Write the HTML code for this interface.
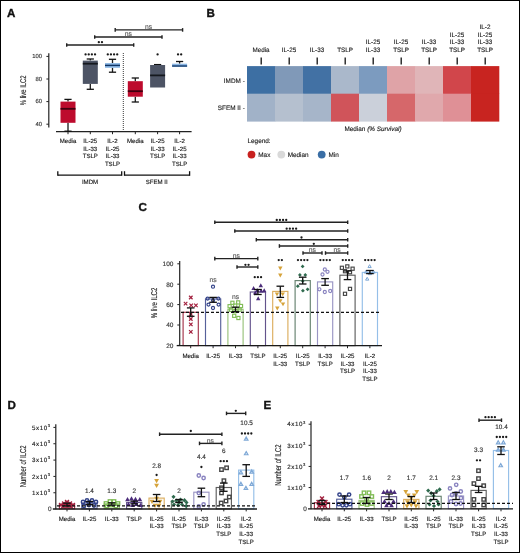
<!DOCTYPE html>
<html><head><meta charset="utf-8"><style>
html,body{margin:0;padding:0;background:#fff;}
body{width:520px;height:553px;overflow:hidden;}
svg{display:block;font-family:"Liberation Sans", sans-serif;will-change:transform;text-rendering:geometricPrecision;}
text{stroke:currentColor;stroke-width:0.14px;}
</style></head><body>
<svg width="520" height="553" viewBox="0 0 520 553">
<rect x="0" y="0" width="520" height="553" fill="#fff"/>
<text x="6.9" y="17.1" font-size="11.6" text-anchor="start" fill="#111" color="#111" font-weight="bold" style="stroke-width:0.35px">A</text>
<line x1="66.7" y1="45" x2="133.7" y2="45" stroke="#222" stroke-width="1.4" stroke-linecap="butt"/>
<line x1="66.7" y1="43.2" x2="66.7" y2="46.8" stroke="#222" stroke-width="1.4" stroke-linecap="butt"/>
<line x1="133.7" y1="43.2" x2="133.7" y2="46.8" stroke="#222" stroke-width="1.4" stroke-linecap="butt"/>
<line x1="94.7" y1="37" x2="162" y2="37" stroke="#222" stroke-width="1.4" stroke-linecap="butt"/>
<line x1="94.7" y1="35.2" x2="94.7" y2="38.8" stroke="#222" stroke-width="1.4" stroke-linecap="butt"/>
<line x1="162" y1="35.2" x2="162" y2="38.8" stroke="#222" stroke-width="1.4" stroke-linecap="butt"/>
<line x1="115.2" y1="29.9" x2="182.6" y2="29.9" stroke="#222" stroke-width="1.4" stroke-linecap="butt"/>
<line x1="115.2" y1="28.1" x2="115.2" y2="31.7" stroke="#222" stroke-width="1.4" stroke-linecap="butt"/>
<line x1="182.6" y1="28.1" x2="182.6" y2="31.7" stroke="#222" stroke-width="1.4" stroke-linecap="butt"/>
<circle cx="98.83" cy="42.2" r="1.15" fill="#1a1a1a"/>
<circle cx="101.98" cy="42.2" r="1.15" fill="#1a1a1a"/>
<text x="128.4" y="35.75" font-size="6.8" text-anchor="middle" fill="#5a5a5a" color="#5a5a5a">ns</text>
<text x="148.5" y="29.35" font-size="6.8" text-anchor="middle" fill="#5a5a5a" color="#5a5a5a">ns</text>
<line x1="48.8" y1="53.3" x2="48.8" y2="127.6" stroke="#222" stroke-width="1.2" stroke-linecap="butt"/>
<line x1="46.4" y1="56.4" x2="48.8" y2="56.4" stroke="#222" stroke-width="1" stroke-linecap="butt"/>
<text x="42.1" y="58.2" font-size="5.9" text-anchor="end" fill="#333" color="#333">100</text>
<line x1="46.4" y1="79" x2="48.8" y2="79" stroke="#222" stroke-width="1" stroke-linecap="butt"/>
<text x="42.1" y="80.8" font-size="5.9" text-anchor="end" fill="#333" color="#333">80</text>
<line x1="46.4" y1="101.6" x2="48.8" y2="101.6" stroke="#222" stroke-width="1" stroke-linecap="butt"/>
<text x="42.1" y="103.4" font-size="5.9" text-anchor="end" fill="#333" color="#333">60</text>
<line x1="46.4" y1="124.2" x2="48.8" y2="124.2" stroke="#222" stroke-width="1" stroke-linecap="butt"/>
<text x="42.1" y="126" font-size="5.9" text-anchor="end" fill="#333" color="#333">40</text>
<text transform="translate(25.8 90.3) rotate(-90) scale(0.71 1)" x="0" y="0" font-size="8.3" text-anchor="middle" fill="#222" color="#222">% live ILC2</text>
<line x1="56" y1="131.6" x2="191.6" y2="131.6" stroke="#222" stroke-width="1.1" stroke-linecap="butt"/>
<line x1="68" y1="131.6" x2="68" y2="134.2" stroke="#222" stroke-width="1" stroke-linecap="butt"/>
<line x1="90.3" y1="131.6" x2="90.3" y2="134.2" stroke="#222" stroke-width="1" stroke-linecap="butt"/>
<line x1="112.5" y1="131.6" x2="112.5" y2="134.2" stroke="#222" stroke-width="1" stroke-linecap="butt"/>
<line x1="135.3" y1="131.6" x2="135.3" y2="134.2" stroke="#222" stroke-width="1" stroke-linecap="butt"/>
<line x1="157.6" y1="131.6" x2="157.6" y2="134.2" stroke="#222" stroke-width="1" stroke-linecap="butt"/>
<line x1="179.6" y1="131.6" x2="179.6" y2="134.2" stroke="#222" stroke-width="1" stroke-linecap="butt"/>
<line x1="123.3" y1="53" x2="123.3" y2="131" stroke="#222" stroke-width="0.9" stroke-dasharray="1,1" stroke-linecap="butt"/>
<line x1="68" y1="99.4" x2="68" y2="101.6" stroke="#1a1a1a" stroke-width="1.3" stroke-linecap="butt"/>
<line x1="64.4" y1="99.4" x2="71.6" y2="99.4" stroke="#111" stroke-width="1.3" stroke-linecap="butt"/>
<line x1="68" y1="122.8" x2="68" y2="131.2" stroke="#1a1a1a" stroke-width="1.3" stroke-linecap="butt"/>
<line x1="64.4" y1="131.2" x2="71.6" y2="131.2" stroke="#111" stroke-width="1.3" stroke-linecap="butt"/>
<rect x="60.5" y="101.6" width="15" height="21.2" fill="#bd0b2d"/>
<line x1="60.5" y1="108.8" x2="75.5" y2="108.8" stroke="#40000f" stroke-width="1.8" stroke-linecap="butt"/>
<line x1="90.3" y1="59" x2="90.3" y2="60.6" stroke="#1a1a1a" stroke-width="1.3" stroke-linecap="butt"/>
<line x1="86.7" y1="59" x2="93.9" y2="59" stroke="#111" stroke-width="1.3" stroke-linecap="butt"/>
<line x1="90.3" y1="83.9" x2="90.3" y2="89.3" stroke="#1a1a1a" stroke-width="1.3" stroke-linecap="butt"/>
<line x1="86.7" y1="89.3" x2="93.9" y2="89.3" stroke="#111" stroke-width="1.3" stroke-linecap="butt"/>
<rect x="82.8" y="60.6" width="15" height="23.3" fill="#4d5465"/>
<line x1="82.8" y1="63.7" x2="97.8" y2="63.7" stroke="#15181e" stroke-width="1.8" stroke-linecap="butt"/>
<line x1="112.5" y1="59.3" x2="112.5" y2="63.1" stroke="#1a1a1a" stroke-width="1.3" stroke-linecap="butt"/>
<line x1="108.9" y1="59.3" x2="116.1" y2="59.3" stroke="#111" stroke-width="1.3" stroke-linecap="butt"/>
<line x1="112.5" y1="67.8" x2="112.5" y2="72.2" stroke="#1a1a1a" stroke-width="1.3" stroke-linecap="butt"/>
<line x1="108.9" y1="72.2" x2="116.1" y2="72.2" stroke="#111" stroke-width="1.3" stroke-linecap="butt"/>
<rect x="105" y="63.1" width="15" height="4.7" fill="#8ab6e4"/>
<line x1="105" y1="65.4" x2="120" y2="65.4" stroke="#0f3363" stroke-width="1.4" stroke-linecap="butt"/>
<line x1="135.3" y1="78" x2="135.3" y2="81.2" stroke="#1a1a1a" stroke-width="1.3" stroke-linecap="butt"/>
<line x1="131.7" y1="78" x2="138.9" y2="78" stroke="#111" stroke-width="1.3" stroke-linecap="butt"/>
<line x1="135.3" y1="96.7" x2="135.3" y2="102" stroke="#1a1a1a" stroke-width="1.3" stroke-linecap="butt"/>
<line x1="131.7" y1="102" x2="138.9" y2="102" stroke="#111" stroke-width="1.3" stroke-linecap="butt"/>
<rect x="127.8" y="81.2" width="15" height="15.5" fill="#bd0b2d"/>
<line x1="127.8" y1="91.2" x2="142.8" y2="91.2" stroke="#40000f" stroke-width="1.8" stroke-linecap="butt"/>
<line x1="157.6" y1="64.6" x2="157.6" y2="65" stroke="#1a1a1a" stroke-width="1.3" stroke-linecap="butt"/>
<line x1="154" y1="64.6" x2="161.2" y2="64.6" stroke="#111" stroke-width="1.3" stroke-linecap="butt"/>
<rect x="150.1" y="65" width="15" height="22.5" fill="#4d5465"/>
<line x1="150.1" y1="75.4" x2="165.1" y2="75.4" stroke="#15181e" stroke-width="1.8" stroke-linecap="butt"/>
<line x1="179.6" y1="61.5" x2="179.6" y2="63.7" stroke="#1a1a1a" stroke-width="1.3" stroke-linecap="butt"/>
<line x1="176" y1="61.5" x2="183.2" y2="61.5" stroke="#111" stroke-width="1.3" stroke-linecap="butt"/>
<rect x="172.1" y="63.7" width="15" height="3.2" fill="#8ab6e4"/>
<line x1="172.1" y1="66" x2="187.1" y2="66" stroke="#0f3363" stroke-width="1.3" stroke-linecap="butt"/>
<circle cx="85.58" cy="54.4" r="1.15" fill="#1a1a1a"/>
<circle cx="88.73" cy="54.4" r="1.15" fill="#1a1a1a"/>
<circle cx="91.88" cy="54.4" r="1.15" fill="#1a1a1a"/>
<circle cx="95.03" cy="54.4" r="1.15" fill="#1a1a1a"/>
<circle cx="107.78" cy="54.4" r="1.15" fill="#1a1a1a"/>
<circle cx="110.93" cy="54.4" r="1.15" fill="#1a1a1a"/>
<circle cx="114.08" cy="54.4" r="1.15" fill="#1a1a1a"/>
<circle cx="117.23" cy="54.4" r="1.15" fill="#1a1a1a"/>
<circle cx="157.6" cy="54.4" r="1.15" fill="#1a1a1a"/>
<circle cx="178.03" cy="54.4" r="1.15" fill="#1a1a1a"/>
<circle cx="181.18" cy="54.4" r="1.15" fill="#1a1a1a"/>
<text x="68" y="143" font-size="6.1" text-anchor="middle" fill="#222" color="#222">Media</text>
<text x="90.3" y="143" font-size="6.1" text-anchor="middle" fill="#222" color="#222">IL-25</text>
<text x="90.3" y="150.7" font-size="6.1" text-anchor="middle" fill="#222" color="#222">IL-33</text>
<text x="90.3" y="158.4" font-size="6.1" text-anchor="middle" fill="#222" color="#222">TSLP</text>
<text x="112.5" y="143" font-size="6.1" text-anchor="middle" fill="#222" color="#222">IL-2</text>
<text x="112.5" y="150.7" font-size="6.1" text-anchor="middle" fill="#222" color="#222">IL-25</text>
<text x="112.5" y="158.4" font-size="6.1" text-anchor="middle" fill="#222" color="#222">IL-33</text>
<text x="112.5" y="166.1" font-size="6.1" text-anchor="middle" fill="#222" color="#222">TSLP</text>
<text x="135.3" y="143" font-size="6.1" text-anchor="middle" fill="#222" color="#222">Media</text>
<text x="157.6" y="143" font-size="6.1" text-anchor="middle" fill="#222" color="#222">IL-25</text>
<text x="157.6" y="150.7" font-size="6.1" text-anchor="middle" fill="#222" color="#222">IL-33</text>
<text x="157.6" y="158.4" font-size="6.1" text-anchor="middle" fill="#222" color="#222">TSLP</text>
<text x="179.6" y="143" font-size="6.1" text-anchor="middle" fill="#222" color="#222">IL-2</text>
<text x="179.6" y="150.7" font-size="6.1" text-anchor="middle" fill="#222" color="#222">IL-25</text>
<text x="179.6" y="158.4" font-size="6.1" text-anchor="middle" fill="#222" color="#222">IL-33</text>
<text x="179.6" y="166.1" font-size="6.1" text-anchor="middle" fill="#222" color="#222">TSLP</text>
<line x1="57.8" y1="175.2" x2="121.7" y2="175.2" stroke="#111" stroke-width="1.3" stroke-linecap="butt"/>
<line x1="57.8" y1="171.2" x2="57.8" y2="175.8" stroke="#111" stroke-width="1.3" stroke-linecap="butt"/>
<line x1="121.7" y1="171.2" x2="121.7" y2="175.8" stroke="#111" stroke-width="1.3" stroke-linecap="butt"/>
<line x1="124.5" y1="175.2" x2="189.6" y2="175.2" stroke="#111" stroke-width="1.3" stroke-linecap="butt"/>
<line x1="124.5" y1="171.2" x2="124.5" y2="175.8" stroke="#111" stroke-width="1.3" stroke-linecap="butt"/>
<line x1="189.6" y1="171.2" x2="189.6" y2="175.8" stroke="#111" stroke-width="1.3" stroke-linecap="butt"/>
<text x="90" y="184" font-size="6.1" text-anchor="middle" fill="#222" color="#222">IMDM</text>
<text x="156.7" y="184" font-size="6.1" text-anchor="middle" fill="#222" color="#222">SFEM II</text>
<text x="206.6" y="16.5" font-size="11.6" text-anchor="start" fill="#111" color="#111" font-weight="bold" style="stroke-width:0.35px">B</text>
<rect x="247" y="66.1" width="28.3" height="27.9" fill="#3d6fa3"/>
<rect x="275" y="66.1" width="28.3" height="27.9" fill="#8099b8"/>
<rect x="303" y="66.1" width="28.3" height="27.9" fill="#4271a4"/>
<rect x="331" y="66.1" width="28.3" height="27.9" fill="#aab8cb"/>
<rect x="359" y="66.1" width="28.3" height="27.9" fill="#7c9bbf"/>
<rect x="387" y="66.1" width="28.3" height="27.9" fill="#dfa3a7"/>
<rect x="415" y="66.1" width="28.3" height="27.9" fill="#e0b5b8"/>
<rect x="443" y="66.1" width="28.3" height="27.9" fill="#d1464b"/>
<rect x="471" y="66.1" width="28.3" height="27.9" fill="#c82420"/>
<rect x="247" y="93.7" width="28.3" height="27.9" fill="#a1b2c8"/>
<rect x="275" y="93.7" width="28.3" height="27.9" fill="#b5c0cf"/>
<rect x="303" y="93.7" width="28.3" height="27.9" fill="#a6b5c9"/>
<rect x="331" y="93.7" width="28.3" height="27.9" fill="#d0545a"/>
<rect x="359" y="93.7" width="28.3" height="27.9" fill="#cbd0da"/>
<rect x="387" y="93.7" width="28.3" height="27.9" fill="#d6676a"/>
<rect x="415" y="93.7" width="28.3" height="27.9" fill="#e0a8ac"/>
<rect x="443" y="93.7" width="28.3" height="27.9" fill="#df9096"/>
<rect x="471" y="93.7" width="28.3" height="27.9" fill="#c82420"/>
<line x1="261.2" y1="57.4" x2="261.2" y2="64.4" stroke="#111" stroke-width="1.3" stroke-linecap="butt"/>
<text x="261" y="52" font-size="6.3" text-anchor="middle" fill="#222" color="#222">Media</text>
<line x1="289.2" y1="57.4" x2="289.2" y2="64.4" stroke="#111" stroke-width="1.3" stroke-linecap="butt"/>
<text x="289" y="52" font-size="6.3" text-anchor="middle" fill="#222" color="#222">IL-25</text>
<line x1="317.2" y1="57.4" x2="317.2" y2="64.4" stroke="#111" stroke-width="1.3" stroke-linecap="butt"/>
<text x="317" y="52" font-size="6.3" text-anchor="middle" fill="#222" color="#222">IL-33</text>
<line x1="345.2" y1="57.4" x2="345.2" y2="64.4" stroke="#111" stroke-width="1.3" stroke-linecap="butt"/>
<text x="345" y="52" font-size="6.3" text-anchor="middle" fill="#222" color="#222">TSLP</text>
<line x1="373.2" y1="57.4" x2="373.2" y2="64.4" stroke="#111" stroke-width="1.3" stroke-linecap="butt"/>
<text x="373" y="44.35" font-size="6.3" text-anchor="middle" fill="#222" color="#222">IL-25</text>
<text x="373" y="52" font-size="6.3" text-anchor="middle" fill="#222" color="#222">IL-33</text>
<line x1="401.2" y1="57.4" x2="401.2" y2="64.4" stroke="#111" stroke-width="1.3" stroke-linecap="butt"/>
<text x="401" y="44.35" font-size="6.3" text-anchor="middle" fill="#222" color="#222">IL-25</text>
<text x="401" y="52" font-size="6.3" text-anchor="middle" fill="#222" color="#222">TSLP</text>
<line x1="429.2" y1="57.4" x2="429.2" y2="64.4" stroke="#111" stroke-width="1.3" stroke-linecap="butt"/>
<text x="429" y="44.35" font-size="6.3" text-anchor="middle" fill="#222" color="#222">IL-33</text>
<text x="429" y="52" font-size="6.3" text-anchor="middle" fill="#222" color="#222">TSLP</text>
<line x1="457.2" y1="57.4" x2="457.2" y2="64.4" stroke="#111" stroke-width="1.3" stroke-linecap="butt"/>
<text x="457" y="36.7" font-size="6.3" text-anchor="middle" fill="#222" color="#222">IL-25</text>
<text x="457" y="44.35" font-size="6.3" text-anchor="middle" fill="#222" color="#222">IL-33</text>
<text x="457" y="52" font-size="6.3" text-anchor="middle" fill="#222" color="#222">TSLP</text>
<line x1="485.2" y1="57.4" x2="485.2" y2="64.4" stroke="#111" stroke-width="1.3" stroke-linecap="butt"/>
<text x="485" y="29.05" font-size="6.3" text-anchor="middle" fill="#222" color="#222">IL-2</text>
<text x="485" y="36.7" font-size="6.3" text-anchor="middle" fill="#222" color="#222">IL-25</text>
<text x="485" y="44.35" font-size="6.3" text-anchor="middle" fill="#222" color="#222">IL-33</text>
<text x="485" y="52" font-size="6.3" text-anchor="middle" fill="#222" color="#222">TSLP</text>
<text x="244.8" y="82.8" font-size="6.4" text-anchor="end" fill="#222" color="#222">IMDM -</text>
<text x="244.8" y="110.2" font-size="6.4" text-anchor="end" fill="#222" color="#222">SFEM II -</text>
<text x="373" y="131" font-size="6.4" text-anchor="middle" fill="#222" color="#222">Median <tspan font-style="italic">(% Survival)</tspan></text>
<text x="247.5" y="142.5" font-size="6.4" text-anchor="start" fill="#222" color="#222">Legend:</text>
<circle cx="251.5" cy="154.6" r="3.9" fill="#c8211f"/>
<text x="258.3" y="156.9" font-size="6.4" text-anchor="start" fill="#222" color="#222">Max</text>
<circle cx="281.3" cy="154.6" r="3.9" fill="#d9d9d9"/>
<text x="287.7" y="156.9" font-size="6.4" text-anchor="start" fill="#222" color="#222">Median</text>
<circle cx="321.7" cy="154.6" r="3.9" fill="#3a6ea5"/>
<text x="328.5" y="156.9" font-size="6.4" text-anchor="start" fill="#222" color="#222">Min</text>
<text x="138.4" y="210.9" font-size="11.6" text-anchor="start" fill="#111" color="#111" font-weight="bold" style="stroke-width:0.35px">C</text>
<line x1="179.7" y1="261" x2="179.7" y2="345.9" stroke="#222" stroke-width="1.2" stroke-linecap="butt"/>
<line x1="177.3" y1="263.8" x2="179.7" y2="263.8" stroke="#222" stroke-width="1" stroke-linecap="butt"/>
<text x="173.4" y="266.1" font-size="6.5" text-anchor="end" fill="#333" color="#333">100</text>
<line x1="177.3" y1="284.2" x2="179.7" y2="284.2" stroke="#222" stroke-width="1" stroke-linecap="butt"/>
<text x="173.4" y="286.5" font-size="6.5" text-anchor="end" fill="#333" color="#333">80</text>
<line x1="177.3" y1="304.6" x2="179.7" y2="304.6" stroke="#222" stroke-width="1" stroke-linecap="butt"/>
<text x="173.4" y="306.9" font-size="6.5" text-anchor="end" fill="#333" color="#333">60</text>
<line x1="177.3" y1="325" x2="179.7" y2="325" stroke="#222" stroke-width="1" stroke-linecap="butt"/>
<text x="173.4" y="327.3" font-size="6.5" text-anchor="end" fill="#333" color="#333">40</text>
<line x1="177.3" y1="345.4" x2="179.7" y2="345.4" stroke="#222" stroke-width="1" stroke-linecap="butt"/>
<text x="173.4" y="347.7" font-size="6.5" text-anchor="end" fill="#333" color="#333">20</text>
<text transform="translate(156.7 303) rotate(-90) scale(0.73 1)" x="0" y="0" font-size="8.3" text-anchor="middle" fill="#222" color="#222">% live ILC2</text>
<line x1="190.7" y1="345.6" x2="190.7" y2="348.2" stroke="#222" stroke-width="1" stroke-linecap="butt"/>
<rect x="183.1" y="312.3" width="15.2" height="33.3" fill="#fff" stroke="#a4344a" stroke-width="1.15"/>
<line x1="213.1" y1="345.6" x2="213.1" y2="348.2" stroke="#222" stroke-width="1" stroke-linecap="butt"/>
<rect x="205.5" y="299" width="15.2" height="46.6" fill="#fff" stroke="#56609a" stroke-width="1.15"/>
<line x1="235.5" y1="345.6" x2="235.5" y2="348.2" stroke="#222" stroke-width="1" stroke-linecap="butt"/>
<rect x="227.9" y="309.3" width="15.2" height="36.3" fill="#fff" stroke="#98c27a" stroke-width="1.15"/>
<line x1="257.9" y1="345.6" x2="257.9" y2="348.2" stroke="#222" stroke-width="1" stroke-linecap="butt"/>
<rect x="250.3" y="292" width="15.2" height="53.6" fill="#fff" stroke="#63538c" stroke-width="1.15"/>
<line x1="280.3" y1="345.6" x2="280.3" y2="348.2" stroke="#222" stroke-width="1" stroke-linecap="butt"/>
<rect x="272.7" y="291.4" width="15.2" height="54.2" fill="#fff" stroke="#dcae5e" stroke-width="1.15"/>
<line x1="302.7" y1="345.6" x2="302.7" y2="348.2" stroke="#222" stroke-width="1" stroke-linecap="butt"/>
<rect x="295.1" y="280.6" width="15.2" height="65" fill="#fff" stroke="#66826f" stroke-width="1.15"/>
<line x1="325.1" y1="345.6" x2="325.1" y2="348.2" stroke="#222" stroke-width="1" stroke-linecap="butt"/>
<rect x="317.5" y="281.9" width="15.2" height="63.7" fill="#fff" stroke="#9a95c4" stroke-width="1.15"/>
<line x1="347.5" y1="345.6" x2="347.5" y2="348.2" stroke="#222" stroke-width="1" stroke-linecap="butt"/>
<rect x="339.9" y="275.2" width="15.2" height="70.4" fill="#fff" stroke="#5e5e5e" stroke-width="1.15"/>
<line x1="369.9" y1="345.6" x2="369.9" y2="348.2" stroke="#222" stroke-width="1" stroke-linecap="butt"/>
<rect x="362.3" y="272.4" width="15.2" height="73.2" fill="#fff" stroke="#95bfe8" stroke-width="1.15"/>
<line x1="176.7" y1="345.7" x2="382" y2="345.7" stroke="#1a1a1a" stroke-width="1.2" stroke-linecap="butt"/>
<line x1="189.05" y1="295.75" x2="192.55" y2="299.25" stroke="#a3213f" stroke-width="1.2" stroke-linecap="butt"/>
<line x1="189.05" y1="299.25" x2="192.55" y2="295.75" stroke="#a3213f" stroke-width="1.2" stroke-linecap="butt"/>
<line x1="183.85" y1="301.85" x2="187.35" y2="305.35" stroke="#a3213f" stroke-width="1.2" stroke-linecap="butt"/>
<line x1="183.85" y1="305.35" x2="187.35" y2="301.85" stroke="#a3213f" stroke-width="1.2" stroke-linecap="butt"/>
<line x1="189.45" y1="303.55" x2="192.95" y2="307.05" stroke="#a3213f" stroke-width="1.2" stroke-linecap="butt"/>
<line x1="189.45" y1="307.05" x2="192.95" y2="303.55" stroke="#a3213f" stroke-width="1.2" stroke-linecap="butt"/>
<line x1="194.15" y1="303.55" x2="197.65" y2="307.05" stroke="#a3213f" stroke-width="1.2" stroke-linecap="butt"/>
<line x1="194.15" y1="307.05" x2="197.65" y2="303.55" stroke="#a3213f" stroke-width="1.2" stroke-linecap="butt"/>
<line x1="189.05" y1="317.25" x2="192.55" y2="320.75" stroke="#a3213f" stroke-width="1.2" stroke-linecap="butt"/>
<line x1="189.05" y1="320.75" x2="192.55" y2="317.25" stroke="#a3213f" stroke-width="1.2" stroke-linecap="butt"/>
<line x1="189.05" y1="322.65" x2="192.55" y2="326.15" stroke="#a3213f" stroke-width="1.2" stroke-linecap="butt"/>
<line x1="189.05" y1="326.15" x2="192.55" y2="322.65" stroke="#a3213f" stroke-width="1.2" stroke-linecap="butt"/>
<line x1="189.05" y1="330.05" x2="192.55" y2="333.55" stroke="#a3213f" stroke-width="1.2" stroke-linecap="butt"/>
<line x1="189.05" y1="333.55" x2="192.55" y2="330.05" stroke="#a3213f" stroke-width="1.2" stroke-linecap="butt"/>
<line x1="189.05" y1="312.25" x2="192.55" y2="315.75" stroke="#a3213f" stroke-width="1.2" stroke-linecap="butt"/>
<line x1="189.05" y1="315.75" x2="192.55" y2="312.25" stroke="#a3213f" stroke-width="1.2" stroke-linecap="butt"/>
<circle cx="213" cy="286.7" r="1.54" fill="none" stroke="#33438a" stroke-width="1.2"/>
<circle cx="207.6" cy="298.6" r="1.54" fill="none" stroke="#33438a" stroke-width="1.2"/>
<circle cx="218.4" cy="298.6" r="1.54" fill="none" stroke="#33438a" stroke-width="1.2"/>
<circle cx="208.5" cy="304.6" r="1.54" fill="none" stroke="#33438a" stroke-width="1.2"/>
<circle cx="218.6" cy="304.6" r="1.54" fill="none" stroke="#33438a" stroke-width="1.2"/>
<circle cx="213" cy="308" r="1.54" fill="none" stroke="#33438a" stroke-width="1.2"/>
<circle cx="213" cy="300.5" r="1.54" fill="none" stroke="#33438a" stroke-width="1.2"/>
<rect x="230.83" y="301.23" width="3.15" height="3.15" fill="none" stroke="#82bd58" stroke-width="1.15"/>
<rect x="236.62" y="300.82" width="3.15" height="3.15" fill="none" stroke="#82bd58" stroke-width="1.15"/>
<rect x="228.03" y="304.62" width="3.15" height="3.15" fill="none" stroke="#82bd58" stroke-width="1.15"/>
<rect x="233.62" y="304.03" width="3.15" height="3.15" fill="none" stroke="#82bd58" stroke-width="1.15"/>
<rect x="239.43" y="304.43" width="3.15" height="3.15" fill="none" stroke="#82bd58" stroke-width="1.15"/>
<rect x="229.43" y="308.23" width="3.15" height="3.15" fill="none" stroke="#82bd58" stroke-width="1.15"/>
<rect x="238.03" y="308.03" width="3.15" height="3.15" fill="none" stroke="#82bd58" stroke-width="1.15"/>
<rect x="232.62" y="314.23" width="3.15" height="3.15" fill="none" stroke="#82bd58" stroke-width="1.15"/>
<rect x="236.83" y="316.43" width="3.15" height="3.15" fill="none" stroke="#82bd58" stroke-width="1.15"/>
<rect x="233.93" y="309.43" width="3.15" height="3.15" fill="none" stroke="#82bd58" stroke-width="1.15"/>
<path d="M260.8 283.29 L263.01 287.21 L258.59 287.21Z" fill="#4b2c7a"/>
<path d="M253.6 286.09 L255.81 290.01 L251.39 290.01Z" fill="#4b2c7a"/>
<path d="M257.2 288.09 L259.41 292.01 L254.99 292.01Z" fill="#4b2c7a"/>
<path d="M261.2 288.69 L263.41 292.61 L258.99 292.61Z" fill="#4b2c7a"/>
<path d="M264.2 288.29 L266.41 292.21 L261.99 292.21Z" fill="#4b2c7a"/>
<path d="M255.2 290.49 L257.41 294.41 L252.99 294.41Z" fill="#4b2c7a"/>
<path d="M258.2 296.29 L260.41 300.21 L255.99 300.21Z" fill="#4b2c7a"/>
<path d="M280.3 270.51 L282.51 266.59 L278.09 266.59Z" fill="#d6a33a"/>
<path d="M280.3 277.51 L282.51 273.59 L278.09 273.59Z" fill="#d6a33a"/>
<path d="M277 296.31 L279.21 292.39 L274.79 292.39Z" fill="#d6a33a"/>
<path d="M282.7 296.31 L284.91 292.39 L280.49 292.39Z" fill="#d6a33a"/>
<path d="M280.3 303.11 L282.51 299.19 L278.09 299.19Z" fill="#d6a33a"/>
<path d="M283 306.31 L285.21 302.39 L280.79 302.39Z" fill="#d6a33a"/>
<path d="M277.3 310.51 L279.51 306.59 L275.09 306.59Z" fill="#d6a33a"/>
<path d="M302.6 264.47 L304.53 266.4 L302.6 268.32 L300.68 266.4Z" fill="#2f6a4e"/>
<path d="M299.9 272.97 L301.82 274.9 L299.9 276.82 L297.97 274.9Z" fill="#2f6a4e"/>
<path d="M305.3 272.97 L307.23 274.9 L305.3 276.82 L303.38 274.9Z" fill="#2f6a4e"/>
<path d="M297.8 284.27 L299.73 286.2 L297.8 288.12 L295.88 286.2Z" fill="#2f6a4e"/>
<path d="M302.9 288.77 L304.82 290.7 L302.9 292.62 L300.97 290.7Z" fill="#2f6a4e"/>
<path d="M307.6 287.38 L309.53 289.3 L307.6 291.23 L305.68 289.3Z" fill="#2f6a4e"/>
<path d="M302.7 279.07 L304.62 281 L302.7 282.93 L300.77 281Z" fill="#2f6a4e"/>
<circle cx="324.8" cy="269.5" r="1.54" fill="none" stroke="#8a84c0" stroke-width="1.2"/>
<circle cx="327.5" cy="271.8" r="1.54" fill="none" stroke="#8a84c0" stroke-width="1.2"/>
<circle cx="322.5" cy="274.5" r="1.54" fill="none" stroke="#8a84c0" stroke-width="1.2"/>
<circle cx="319.4" cy="289.3" r="1.54" fill="none" stroke="#8a84c0" stroke-width="1.2"/>
<circle cx="324.8" cy="292" r="1.54" fill="none" stroke="#8a84c0" stroke-width="1.2"/>
<circle cx="330.2" cy="291" r="1.54" fill="none" stroke="#8a84c0" stroke-width="1.2"/>
<rect x="340.32" y="266.23" width="3.15" height="3.15" fill="none" stroke="#454545" stroke-width="1.15"/>
<rect x="345.73" y="264.82" width="3.15" height="3.15" fill="none" stroke="#454545" stroke-width="1.15"/>
<rect x="351.03" y="267.12" width="3.15" height="3.15" fill="none" stroke="#454545" stroke-width="1.15"/>
<rect x="343.43" y="269.62" width="3.15" height="3.15" fill="none" stroke="#454545" stroke-width="1.15"/>
<rect x="348.43" y="270.62" width="3.15" height="3.15" fill="none" stroke="#454545" stroke-width="1.15"/>
<rect x="348.43" y="287.32" width="3.15" height="3.15" fill="none" stroke="#454545" stroke-width="1.15"/>
<rect x="343.43" y="292.23" width="3.15" height="3.15" fill="none" stroke="#454545" stroke-width="1.15"/>
<path d="M369.6 264.71 L371.22 267.55 L367.98 267.55Z" fill="none" stroke="#7ea8d6" stroke-width="1"/>
<path d="M367.2 277.31 L368.82 280.15 L365.58 280.15Z" fill="none" stroke="#7ea8d6" stroke-width="1"/>
<path d="M366 270.31 L367.62 273.15 L364.38 273.15Z" fill="none" stroke="#7ea8d6" stroke-width="1"/>
<path d="M373.5 270.31 L375.12 273.15 L371.88 273.15Z" fill="none" stroke="#7ea8d6" stroke-width="1"/>
<path d="M369.9 271.81 L371.52 274.65 L368.28 274.65Z" fill="none" stroke="#7ea8d6" stroke-width="1"/>
<line x1="190.7" y1="307.9" x2="190.7" y2="316.3" stroke="#111" stroke-width="1.3" stroke-linecap="butt"/>
<line x1="186.9" y1="307.9" x2="194.5" y2="307.9" stroke="#111" stroke-width="1.3" stroke-linecap="butt"/>
<line x1="186.9" y1="316.3" x2="194.5" y2="316.3" stroke="#111" stroke-width="1.3" stroke-linecap="butt"/>
<line x1="213.1" y1="297.4" x2="213.1" y2="302.3" stroke="#111" stroke-width="1.3" stroke-linecap="butt"/>
<line x1="209.3" y1="297.4" x2="216.9" y2="297.4" stroke="#111" stroke-width="1.3" stroke-linecap="butt"/>
<line x1="209.3" y1="302.3" x2="216.9" y2="302.3" stroke="#111" stroke-width="1.3" stroke-linecap="butt"/>
<line x1="235.5" y1="307.2" x2="235.5" y2="311.6" stroke="#111" stroke-width="1.3" stroke-linecap="butt"/>
<line x1="231.7" y1="307.2" x2="239.3" y2="307.2" stroke="#111" stroke-width="1.3" stroke-linecap="butt"/>
<line x1="231.7" y1="311.6" x2="239.3" y2="311.6" stroke="#111" stroke-width="1.3" stroke-linecap="butt"/>
<line x1="257.9" y1="289.5" x2="257.9" y2="294.5" stroke="#111" stroke-width="1.3" stroke-linecap="butt"/>
<line x1="254.1" y1="289.5" x2="261.7" y2="289.5" stroke="#111" stroke-width="1.3" stroke-linecap="butt"/>
<line x1="254.1" y1="294.5" x2="261.7" y2="294.5" stroke="#111" stroke-width="1.3" stroke-linecap="butt"/>
<line x1="280.3" y1="286.2" x2="280.3" y2="297.4" stroke="#111" stroke-width="1.3" stroke-linecap="butt"/>
<line x1="276.5" y1="286.2" x2="284.1" y2="286.2" stroke="#111" stroke-width="1.3" stroke-linecap="butt"/>
<line x1="276.5" y1="297.4" x2="284.1" y2="297.4" stroke="#111" stroke-width="1.3" stroke-linecap="butt"/>
<line x1="302.7" y1="277.2" x2="302.7" y2="284" stroke="#111" stroke-width="1.3" stroke-linecap="butt"/>
<line x1="298.9" y1="277.2" x2="306.5" y2="277.2" stroke="#111" stroke-width="1.3" stroke-linecap="butt"/>
<line x1="298.9" y1="284" x2="306.5" y2="284" stroke="#111" stroke-width="1.3" stroke-linecap="butt"/>
<line x1="325.1" y1="278.6" x2="325.1" y2="285.3" stroke="#111" stroke-width="1.3" stroke-linecap="butt"/>
<line x1="321.3" y1="278.6" x2="328.9" y2="278.6" stroke="#111" stroke-width="1.3" stroke-linecap="butt"/>
<line x1="321.3" y1="285.3" x2="328.9" y2="285.3" stroke="#111" stroke-width="1.3" stroke-linecap="butt"/>
<line x1="347.5" y1="270.9" x2="347.5" y2="279.6" stroke="#111" stroke-width="1.3" stroke-linecap="butt"/>
<line x1="343.7" y1="270.9" x2="351.3" y2="270.9" stroke="#111" stroke-width="1.3" stroke-linecap="butt"/>
<line x1="343.7" y1="279.6" x2="351.3" y2="279.6" stroke="#111" stroke-width="1.3" stroke-linecap="butt"/>
<line x1="369.9" y1="270.5" x2="369.9" y2="273.6" stroke="#111" stroke-width="1.3" stroke-linecap="butt"/>
<line x1="366.1" y1="270.5" x2="373.7" y2="270.5" stroke="#111" stroke-width="1.3" stroke-linecap="butt"/>
<line x1="366.1" y1="273.6" x2="373.7" y2="273.6" stroke="#111" stroke-width="1.3" stroke-linecap="butt"/>
<line x1="181" y1="312.4" x2="381" y2="312.4" stroke="#111" stroke-width="1.1" stroke-dasharray="3,2" stroke-linecap="butt"/>
<text x="213" y="282.25" font-size="6.8" text-anchor="middle" fill="#5a5a5a" color="#5a5a5a">ns</text>
<text x="235.5" y="298.55" font-size="6.8" text-anchor="middle" fill="#5a5a5a" color="#5a5a5a">ns</text>
<circle cx="254.75" cy="277.2" r="1.15" fill="#1a1a1a"/>
<circle cx="257.9" cy="277.2" r="1.15" fill="#1a1a1a"/>
<circle cx="261.05" cy="277.2" r="1.15" fill="#1a1a1a"/>
<circle cx="278.73" cy="260.1" r="1.15" fill="#1a1a1a"/>
<circle cx="281.88" cy="260.1" r="1.15" fill="#1a1a1a"/>
<circle cx="297.97" cy="260.1" r="1.15" fill="#1a1a1a"/>
<circle cx="301.12" cy="260.1" r="1.15" fill="#1a1a1a"/>
<circle cx="304.27" cy="260.1" r="1.15" fill="#1a1a1a"/>
<circle cx="307.42" cy="260.1" r="1.15" fill="#1a1a1a"/>
<circle cx="320.38" cy="260.1" r="1.15" fill="#1a1a1a"/>
<circle cx="323.52" cy="260.1" r="1.15" fill="#1a1a1a"/>
<circle cx="326.68" cy="260.1" r="1.15" fill="#1a1a1a"/>
<circle cx="329.82" cy="260.1" r="1.15" fill="#1a1a1a"/>
<circle cx="342.77" cy="260.1" r="1.15" fill="#1a1a1a"/>
<circle cx="345.92" cy="260.1" r="1.15" fill="#1a1a1a"/>
<circle cx="349.07" cy="260.1" r="1.15" fill="#1a1a1a"/>
<circle cx="352.22" cy="260.1" r="1.15" fill="#1a1a1a"/>
<circle cx="365.17" cy="260.1" r="1.15" fill="#1a1a1a"/>
<circle cx="368.32" cy="260.1" r="1.15" fill="#1a1a1a"/>
<circle cx="371.47" cy="260.1" r="1.15" fill="#1a1a1a"/>
<circle cx="374.62" cy="260.1" r="1.15" fill="#1a1a1a"/>
<line x1="214.8" y1="222.3" x2="347.7" y2="222.3" stroke="#222" stroke-width="1.4" stroke-linecap="butt"/>
<line x1="214.8" y1="220.5" x2="214.8" y2="224.1" stroke="#222" stroke-width="1.4" stroke-linecap="butt"/>
<line x1="347.7" y1="220.5" x2="347.7" y2="224.1" stroke="#222" stroke-width="1.4" stroke-linecap="butt"/>
<circle cx="276.77" cy="220" r="1.15" fill="#1a1a1a"/>
<circle cx="279.92" cy="220" r="1.15" fill="#1a1a1a"/>
<circle cx="283.07" cy="220" r="1.15" fill="#1a1a1a"/>
<circle cx="286.22" cy="220" r="1.15" fill="#1a1a1a"/>
<line x1="234.8" y1="231" x2="347.7" y2="231" stroke="#222" stroke-width="1.4" stroke-linecap="butt"/>
<line x1="234.8" y1="229.2" x2="234.8" y2="232.8" stroke="#222" stroke-width="1.4" stroke-linecap="butt"/>
<line x1="347.7" y1="229.2" x2="347.7" y2="232.8" stroke="#222" stroke-width="1.4" stroke-linecap="butt"/>
<circle cx="286.67" cy="228.7" r="1.15" fill="#1a1a1a"/>
<circle cx="289.82" cy="228.7" r="1.15" fill="#1a1a1a"/>
<circle cx="292.97" cy="228.7" r="1.15" fill="#1a1a1a"/>
<circle cx="296.12" cy="228.7" r="1.15" fill="#1a1a1a"/>
<line x1="256.3" y1="239.8" x2="347.7" y2="239.8" stroke="#222" stroke-width="1.4" stroke-linecap="butt"/>
<line x1="256.3" y1="238" x2="256.3" y2="241.6" stroke="#222" stroke-width="1.4" stroke-linecap="butt"/>
<line x1="347.7" y1="238" x2="347.7" y2="241.6" stroke="#222" stroke-width="1.4" stroke-linecap="butt"/>
<circle cx="301.5" cy="237.5" r="1.15" fill="#1a1a1a"/>
<line x1="279.4" y1="246" x2="347.7" y2="246" stroke="#222" stroke-width="1.4" stroke-linecap="butt"/>
<line x1="279.4" y1="244.2" x2="279.4" y2="247.8" stroke="#222" stroke-width="1.4" stroke-linecap="butt"/>
<line x1="347.7" y1="244.2" x2="347.7" y2="247.8" stroke="#222" stroke-width="1.4" stroke-linecap="butt"/>
<circle cx="313.8" cy="243.8" r="1.15" fill="#1a1a1a"/>
<line x1="303" y1="253" x2="322" y2="253" stroke="#222" stroke-width="1.4" stroke-linecap="butt"/>
<line x1="303" y1="251.2" x2="303" y2="254.8" stroke="#222" stroke-width="1.4" stroke-linecap="butt"/>
<line x1="322" y1="251.2" x2="322" y2="254.8" stroke="#222" stroke-width="1.4" stroke-linecap="butt"/>
<text x="312.3" y="252.35" font-size="6.8" text-anchor="middle" fill="#5a5a5a" color="#5a5a5a">ns</text>
<line x1="325.5" y1="253" x2="347.7" y2="253" stroke="#222" stroke-width="1.4" stroke-linecap="butt"/>
<line x1="325.5" y1="251.2" x2="325.5" y2="254.8" stroke="#222" stroke-width="1.4" stroke-linecap="butt"/>
<line x1="347.7" y1="251.2" x2="347.7" y2="254.8" stroke="#222" stroke-width="1.4" stroke-linecap="butt"/>
<text x="337" y="252.35" font-size="6.8" text-anchor="middle" fill="#5a5a5a" color="#5a5a5a">ns</text>
<line x1="214.8" y1="258.6" x2="257.8" y2="258.6" stroke="#222" stroke-width="1.4" stroke-linecap="butt"/>
<line x1="214.8" y1="256.8" x2="214.8" y2="260.4" stroke="#222" stroke-width="1.4" stroke-linecap="butt"/>
<line x1="257.8" y1="256.8" x2="257.8" y2="260.4" stroke="#222" stroke-width="1.4" stroke-linecap="butt"/>
<text x="236.3" y="257.95" font-size="6.8" text-anchor="middle" fill="#5a5a5a" color="#5a5a5a">ns</text>
<line x1="237" y1="267" x2="257.8" y2="267" stroke="#222" stroke-width="1.4" stroke-linecap="butt"/>
<line x1="237" y1="265.2" x2="237" y2="268.8" stroke="#222" stroke-width="1.4" stroke-linecap="butt"/>
<line x1="257.8" y1="265.2" x2="257.8" y2="268.8" stroke="#222" stroke-width="1.4" stroke-linecap="butt"/>
<circle cx="245.43" cy="264.8" r="1.15" fill="#1a1a1a"/>
<circle cx="248.58" cy="264.8" r="1.15" fill="#1a1a1a"/>
<text x="190.7" y="357.8" font-size="6.1" text-anchor="middle" fill="#222" color="#222">Media</text>
<text x="213.1" y="357.8" font-size="6.1" text-anchor="middle" fill="#222" color="#222">IL-25</text>
<text x="235.5" y="357.8" font-size="6.1" text-anchor="middle" fill="#222" color="#222">IL-33</text>
<text x="257.9" y="357.8" font-size="6.1" text-anchor="middle" fill="#222" color="#222">TSLP</text>
<text x="280.3" y="357.8" font-size="6.1" text-anchor="middle" fill="#222" color="#222">IL-25</text>
<text x="280.3" y="365.55" font-size="6.1" text-anchor="middle" fill="#222" color="#222">IL-33</text>
<text x="302.7" y="357.8" font-size="6.1" text-anchor="middle" fill="#222" color="#222">IL-25</text>
<text x="302.7" y="365.55" font-size="6.1" text-anchor="middle" fill="#222" color="#222">TSLP</text>
<text x="325.1" y="357.8" font-size="6.1" text-anchor="middle" fill="#222" color="#222">IL-33</text>
<text x="325.1" y="365.55" font-size="6.1" text-anchor="middle" fill="#222" color="#222">TSLP</text>
<text x="347.5" y="357.8" font-size="6.1" text-anchor="middle" fill="#222" color="#222">IL-25</text>
<text x="347.5" y="365.55" font-size="6.1" text-anchor="middle" fill="#222" color="#222">IL-33</text>
<text x="347.5" y="373.3" font-size="6.1" text-anchor="middle" fill="#222" color="#222">TSLP</text>
<text x="369.9" y="357.8" font-size="6.1" text-anchor="middle" fill="#222" color="#222">IL-2</text>
<text x="369.9" y="365.55" font-size="6.1" text-anchor="middle" fill="#222" color="#222">IL-25</text>
<text x="369.9" y="373.3" font-size="6.1" text-anchor="middle" fill="#222" color="#222">IL-33</text>
<text x="369.9" y="381.05" font-size="6.1" text-anchor="middle" fill="#222" color="#222">TSLP</text>
<text x="7.4" y="409" font-size="11.6" text-anchor="start" fill="#111" color="#111" font-weight="bold" style="stroke-width:0.35px">D</text>
<line x1="55.8" y1="424.2" x2="55.8" y2="509.3" stroke="#222" stroke-width="1.2" stroke-linecap="butt"/>
<line x1="53.4" y1="427.4" x2="55.8" y2="427.4" stroke="#222" stroke-width="1" stroke-linecap="butt"/>
<text x="50.6" y="429.6" font-size="6.2" letter-spacing="0.55" text-anchor="end" fill="#222" color="#222">5x10<tspan font-size="4.2" dy="-2.8">3</tspan></text>
<line x1="53.4" y1="443.74" x2="55.8" y2="443.74" stroke="#222" stroke-width="1" stroke-linecap="butt"/>
<text x="50.6" y="445.94" font-size="6.2" letter-spacing="0.55" text-anchor="end" fill="#222" color="#222">4x10<tspan font-size="4.2" dy="-2.8">3</tspan></text>
<line x1="53.4" y1="460.08" x2="55.8" y2="460.08" stroke="#222" stroke-width="1" stroke-linecap="butt"/>
<text x="50.6" y="462.28" font-size="6.2" letter-spacing="0.55" text-anchor="end" fill="#222" color="#222">3x10<tspan font-size="4.2" dy="-2.8">3</tspan></text>
<line x1="53.4" y1="476.42" x2="55.8" y2="476.42" stroke="#222" stroke-width="1" stroke-linecap="butt"/>
<text x="50.6" y="478.62" font-size="6.2" letter-spacing="0.55" text-anchor="end" fill="#222" color="#222">2x10<tspan font-size="4.2" dy="-2.8">3</tspan></text>
<line x1="53.4" y1="492.76" x2="55.8" y2="492.76" stroke="#222" stroke-width="1" stroke-linecap="butt"/>
<text x="50.6" y="494.96" font-size="6.2" letter-spacing="0.55" text-anchor="end" fill="#222" color="#222">1x10<tspan font-size="4.2" dy="-2.8">3</tspan></text>
<text x="51.6" y="511.2" font-size="6.4" text-anchor="end" fill="#333" color="#333">0</text>
<text transform="translate(26.1 466.4) rotate(-90) scale(0.69 1)" x="0" y="0" font-size="8.6" text-anchor="middle" fill="#222" color="#222">Number of ILC2</text>
<line x1="67" y1="508.8" x2="67" y2="511.4" stroke="#222" stroke-width="1" stroke-linecap="butt"/>
<rect x="59.4" y="504.4" width="15.2" height="4.4" fill="#fff" stroke="#a4344a" stroke-width="1.15"/>
<line x1="89.4" y1="508.8" x2="89.4" y2="511.4" stroke="#222" stroke-width="1" stroke-linecap="butt"/>
<rect x="81.8" y="503" width="15.2" height="5.8" fill="#fff" stroke="#56609a" stroke-width="1.15"/>
<line x1="111.8" y1="508.8" x2="111.8" y2="511.4" stroke="#222" stroke-width="1" stroke-linecap="butt"/>
<rect x="104.2" y="504" width="15.2" height="4.8" fill="#fff" stroke="#98c27a" stroke-width="1.15"/>
<line x1="134.2" y1="508.8" x2="134.2" y2="511.4" stroke="#222" stroke-width="1" stroke-linecap="butt"/>
<rect x="126.6" y="502.5" width="15.2" height="6.3" fill="#fff" stroke="#63538c" stroke-width="1.15"/>
<line x1="156.6" y1="508.8" x2="156.6" y2="511.4" stroke="#222" stroke-width="1" stroke-linecap="butt"/>
<rect x="149" y="498.1" width="15.2" height="10.7" fill="#fff" stroke="#dcae5e" stroke-width="1.15"/>
<line x1="179" y1="508.8" x2="179" y2="511.4" stroke="#222" stroke-width="1" stroke-linecap="butt"/>
<rect x="171.4" y="501" width="15.2" height="7.8" fill="#fff" stroke="#66826f" stroke-width="1.15"/>
<line x1="201.4" y1="508.8" x2="201.4" y2="511.4" stroke="#222" stroke-width="1" stroke-linecap="butt"/>
<rect x="193.8" y="492.2" width="15.2" height="16.6" fill="#fff" stroke="#9a95c4" stroke-width="1.15"/>
<line x1="223.8" y1="508.8" x2="223.8" y2="511.4" stroke="#222" stroke-width="1" stroke-linecap="butt"/>
<rect x="216.2" y="487.5" width="15.2" height="21.3" fill="#fff" stroke="#5e5e5e" stroke-width="1.15"/>
<line x1="246.2" y1="508.8" x2="246.2" y2="511.4" stroke="#222" stroke-width="1" stroke-linecap="butt"/>
<rect x="238.6" y="470.1" width="15.2" height="38.7" fill="#fff" stroke="#95bfe8" stroke-width="1.15"/>
<line x1="59.1" y1="503.1" x2="62.9" y2="506.9" stroke="#a3213f" stroke-width="1.44" stroke-linecap="butt"/>
<line x1="59.1" y1="506.9" x2="62.9" y2="503.1" stroke="#a3213f" stroke-width="1.44" stroke-linecap="butt"/>
<line x1="62.1" y1="501.6" x2="65.9" y2="505.4" stroke="#a3213f" stroke-width="1.44" stroke-linecap="butt"/>
<line x1="62.1" y1="505.4" x2="65.9" y2="501.6" stroke="#a3213f" stroke-width="1.44" stroke-linecap="butt"/>
<line x1="65.1" y1="500.1" x2="68.9" y2="503.9" stroke="#a3213f" stroke-width="1.44" stroke-linecap="butt"/>
<line x1="65.1" y1="503.9" x2="68.9" y2="500.1" stroke="#a3213f" stroke-width="1.44" stroke-linecap="butt"/>
<line x1="68.1" y1="501.6" x2="71.9" y2="505.4" stroke="#a3213f" stroke-width="1.44" stroke-linecap="butt"/>
<line x1="68.1" y1="505.4" x2="71.9" y2="501.6" stroke="#a3213f" stroke-width="1.44" stroke-linecap="butt"/>
<line x1="71.1" y1="503.1" x2="74.9" y2="506.9" stroke="#a3213f" stroke-width="1.44" stroke-linecap="butt"/>
<line x1="71.1" y1="506.9" x2="74.9" y2="503.1" stroke="#a3213f" stroke-width="1.44" stroke-linecap="butt"/>
<line x1="61.1" y1="504.6" x2="64.9" y2="508.4" stroke="#a3213f" stroke-width="1.44" stroke-linecap="butt"/>
<line x1="61.1" y1="508.4" x2="64.9" y2="504.6" stroke="#a3213f" stroke-width="1.44" stroke-linecap="butt"/>
<line x1="65.1" y1="504.6" x2="68.9" y2="508.4" stroke="#a3213f" stroke-width="1.44" stroke-linecap="butt"/>
<line x1="65.1" y1="508.4" x2="68.9" y2="504.6" stroke="#a3213f" stroke-width="1.44" stroke-linecap="butt"/>
<line x1="69.1" y1="504.6" x2="72.9" y2="508.4" stroke="#a3213f" stroke-width="1.44" stroke-linecap="butt"/>
<line x1="69.1" y1="508.4" x2="72.9" y2="504.6" stroke="#a3213f" stroke-width="1.44" stroke-linecap="butt"/>
<line x1="65.1" y1="502.6" x2="68.9" y2="506.4" stroke="#a3213f" stroke-width="1.44" stroke-linecap="butt"/>
<line x1="65.1" y1="506.4" x2="68.9" y2="502.6" stroke="#a3213f" stroke-width="1.44" stroke-linecap="butt"/>
<circle cx="83" cy="502" r="1.67" fill="none" stroke="#33438a" stroke-width="1.44"/>
<circle cx="87" cy="500.5" r="1.67" fill="none" stroke="#33438a" stroke-width="1.44"/>
<circle cx="92" cy="500.5" r="1.67" fill="none" stroke="#33438a" stroke-width="1.44"/>
<circle cx="96" cy="502" r="1.67" fill="none" stroke="#33438a" stroke-width="1.44"/>
<circle cx="84" cy="506" r="1.67" fill="none" stroke="#33438a" stroke-width="1.44"/>
<circle cx="89" cy="505" r="1.67" fill="none" stroke="#33438a" stroke-width="1.44"/>
<circle cx="94" cy="505.5" r="1.67" fill="none" stroke="#33438a" stroke-width="1.44"/>
<circle cx="89" cy="502.5" r="1.67" fill="none" stroke="#33438a" stroke-width="1.44"/>
<rect x="104.29" y="501.79" width="3.42" height="3.42" fill="none" stroke="#82bd58" stroke-width="1.38"/>
<rect x="108.29" y="499.79" width="3.42" height="3.42" fill="none" stroke="#82bd58" stroke-width="1.38"/>
<rect x="112.29" y="499.79" width="3.42" height="3.42" fill="none" stroke="#82bd58" stroke-width="1.38"/>
<rect x="116.29" y="501.79" width="3.42" height="3.42" fill="none" stroke="#82bd58" stroke-width="1.38"/>
<rect x="105.29" y="504.29" width="3.42" height="3.42" fill="none" stroke="#82bd58" stroke-width="1.38"/>
<rect x="110.29" y="503.29" width="3.42" height="3.42" fill="none" stroke="#82bd58" stroke-width="1.38"/>
<rect x="114.29" y="504.29" width="3.42" height="3.42" fill="none" stroke="#82bd58" stroke-width="1.38"/>
<path d="M127.5 496.99 L129.9 501.25 L125.1 501.25Z" fill="#4b2c7a"/>
<path d="M131.5 496.29 L133.9 500.55 L129.1 500.55Z" fill="#4b2c7a"/>
<path d="M135.5 496.69 L137.9 500.95 L133.1 500.95Z" fill="#4b2c7a"/>
<path d="M139.8 496.99 L142.2 501.25 L137.4 501.25Z" fill="#4b2c7a"/>
<path d="M128.5 501.69 L130.9 505.95 L126.1 505.95Z" fill="#4b2c7a"/>
<path d="M132.5 502.69 L134.9 506.95 L130.1 506.95Z" fill="#4b2c7a"/>
<path d="M136.5 501.69 L138.9 505.95 L134.1 505.95Z" fill="#4b2c7a"/>
<path d="M140.5 502.69 L142.9 506.95 L138.1 506.95Z" fill="#4b2c7a"/>
<path d="M134 499.49 L136.4 503.75 L131.6 503.75Z" fill="#4b2c7a"/>
<path d="M156.6 483.31 L159 479.05 L154.2 479.05Z" fill="#d6a33a"/>
<path d="M156.6 488.11 L159 483.85 L154.2 483.85Z" fill="#d6a33a"/>
<path d="M152 504.01 L154.4 499.75 L149.6 499.75Z" fill="#d6a33a"/>
<path d="M160 504.01 L162.4 499.75 L157.6 499.75Z" fill="#d6a33a"/>
<path d="M155 508.01 L157.4 503.75 L152.6 503.75Z" fill="#d6a33a"/>
<path d="M159 508.01 L161.4 503.75 L156.6 503.75Z" fill="#d6a33a"/>
<path d="M156.6 501.01 L159 496.75 L154.2 496.75Z" fill="#d6a33a"/>
<path d="M173.5 494.71 L175.59 496.8 L173.5 498.89 L171.41 496.8Z" fill="#2f6a4e"/>
<path d="M176.5 498.41 L178.59 500.5 L176.5 502.59 L174.41 500.5Z" fill="#2f6a4e"/>
<path d="M180.5 497.41 L182.59 499.5 L180.5 501.59 L178.41 499.5Z" fill="#2f6a4e"/>
<path d="M184.5 498.11 L186.59 500.2 L184.5 502.29 L182.41 500.2Z" fill="#2f6a4e"/>
<path d="M186.5 500.41 L188.59 502.5 L186.5 504.59 L184.41 502.5Z" fill="#2f6a4e"/>
<path d="M174 502.41 L176.09 504.5 L174 506.59 L171.91 504.5Z" fill="#2f6a4e"/>
<path d="M178 503.11 L180.09 505.2 L178 507.29 L175.91 505.2Z" fill="#2f6a4e"/>
<path d="M182 502.41 L184.09 504.5 L182 506.59 L179.91 504.5Z" fill="#2f6a4e"/>
<path d="M186 503.91 L188.09 506 L186 508.09 L183.91 506Z" fill="#2f6a4e"/>
<path d="M179 500.41 L181.09 502.5 L179 504.59 L176.91 502.5Z" fill="#2f6a4e"/>
<path d="M172.5 499.41 L174.59 501.5 L172.5 503.59 L170.41 501.5Z" fill="#2f6a4e"/>
<circle cx="198.8" cy="475.5" r="1.67" fill="none" stroke="#8a84c0" stroke-width="1.44"/>
<circle cx="203.6" cy="478" r="1.67" fill="none" stroke="#8a84c0" stroke-width="1.44"/>
<circle cx="203.6" cy="504.4" r="1.67" fill="none" stroke="#8a84c0" stroke-width="1.44"/>
<circle cx="198.8" cy="506.5" r="1.67" fill="none" stroke="#8a84c0" stroke-width="1.44"/>
<circle cx="198.8" cy="493" r="1.67" fill="none" stroke="#8a84c0" stroke-width="1.44"/>
<rect x="219.79" y="467.89" width="3.42" height="3.42" fill="none" stroke="#454545" stroke-width="1.38"/>
<rect x="224.89" y="466.09" width="3.42" height="3.42" fill="none" stroke="#454545" stroke-width="1.38"/>
<rect x="222.19" y="478.99" width="3.42" height="3.42" fill="none" stroke="#454545" stroke-width="1.38"/>
<rect x="219.79" y="486.09" width="3.42" height="3.42" fill="none" stroke="#454545" stroke-width="1.38"/>
<rect x="219.79" y="491.19" width="3.42" height="3.42" fill="none" stroke="#454545" stroke-width="1.38"/>
<rect x="227.59" y="495.29" width="3.42" height="3.42" fill="none" stroke="#454545" stroke-width="1.38"/>
<rect x="224.29" y="499.29" width="3.42" height="3.42" fill="none" stroke="#454545" stroke-width="1.38"/>
<rect x="219.49" y="501.29" width="3.42" height="3.42" fill="none" stroke="#454545" stroke-width="1.38"/>
<path d="M246.2 436.96 L247.96 440.05 L244.44 440.05Z" fill="none" stroke="#7ea8d6" stroke-width="1.2"/>
<path d="M246.2 451.66 L247.96 454.75 L244.44 454.75Z" fill="none" stroke="#7ea8d6" stroke-width="1.2"/>
<path d="M240.9 470.76 L242.66 473.85 L239.14 473.85Z" fill="none" stroke="#7ea8d6" stroke-width="1.2"/>
<path d="M251.7 470.06 L253.46 473.15 L249.94 473.15Z" fill="none" stroke="#7ea8d6" stroke-width="1.2"/>
<path d="M240.9 482.26 L242.66 485.35 L239.14 485.35Z" fill="none" stroke="#7ea8d6" stroke-width="1.2"/>
<path d="M251.7 482.26 L253.46 485.35 L249.94 485.35Z" fill="none" stroke="#7ea8d6" stroke-width="1.2"/>
<path d="M245.9 486.36 L247.66 489.45 L244.14 489.45Z" fill="none" stroke="#7ea8d6" stroke-width="1.2"/>
<line x1="67" y1="503.2" x2="67" y2="506" stroke="#111" stroke-width="1.3" stroke-linecap="butt"/>
<line x1="63.2" y1="503.2" x2="70.8" y2="503.2" stroke="#111" stroke-width="1.3" stroke-linecap="butt"/>
<line x1="63.2" y1="506" x2="70.8" y2="506" stroke="#111" stroke-width="1.3" stroke-linecap="butt"/>
<line x1="89.4" y1="501.5" x2="89.4" y2="504.5" stroke="#111" stroke-width="1.3" stroke-linecap="butt"/>
<line x1="85.6" y1="501.5" x2="93.2" y2="501.5" stroke="#111" stroke-width="1.3" stroke-linecap="butt"/>
<line x1="85.6" y1="504.5" x2="93.2" y2="504.5" stroke="#111" stroke-width="1.3" stroke-linecap="butt"/>
<line x1="111.8" y1="502.8" x2="111.8" y2="505.2" stroke="#111" stroke-width="1.3" stroke-linecap="butt"/>
<line x1="108" y1="502.8" x2="115.6" y2="502.8" stroke="#111" stroke-width="1.3" stroke-linecap="butt"/>
<line x1="108" y1="505.2" x2="115.6" y2="505.2" stroke="#111" stroke-width="1.3" stroke-linecap="butt"/>
<line x1="134.2" y1="501.2" x2="134.2" y2="503.8" stroke="#111" stroke-width="1.3" stroke-linecap="butt"/>
<line x1="130.4" y1="501.2" x2="138" y2="501.2" stroke="#111" stroke-width="1.3" stroke-linecap="butt"/>
<line x1="130.4" y1="503.8" x2="138" y2="503.8" stroke="#111" stroke-width="1.3" stroke-linecap="butt"/>
<line x1="156.6" y1="494.5" x2="156.6" y2="501.5" stroke="#111" stroke-width="1.3" stroke-linecap="butt"/>
<line x1="152.8" y1="494.5" x2="160.4" y2="494.5" stroke="#111" stroke-width="1.3" stroke-linecap="butt"/>
<line x1="152.8" y1="501.5" x2="160.4" y2="501.5" stroke="#111" stroke-width="1.3" stroke-linecap="butt"/>
<line x1="179" y1="499.5" x2="179" y2="502.5" stroke="#111" stroke-width="1.3" stroke-linecap="butt"/>
<line x1="175.2" y1="499.5" x2="182.8" y2="499.5" stroke="#111" stroke-width="1.3" stroke-linecap="butt"/>
<line x1="175.2" y1="502.5" x2="182.8" y2="502.5" stroke="#111" stroke-width="1.3" stroke-linecap="butt"/>
<line x1="201.4" y1="488.2" x2="201.4" y2="496.7" stroke="#111" stroke-width="1.3" stroke-linecap="butt"/>
<line x1="197.6" y1="488.2" x2="205.2" y2="488.2" stroke="#111" stroke-width="1.3" stroke-linecap="butt"/>
<line x1="197.6" y1="496.7" x2="205.2" y2="496.7" stroke="#111" stroke-width="1.3" stroke-linecap="butt"/>
<line x1="223.8" y1="483.1" x2="223.8" y2="491.3" stroke="#111" stroke-width="1.3" stroke-linecap="butt"/>
<line x1="220" y1="483.1" x2="227.6" y2="483.1" stroke="#111" stroke-width="1.3" stroke-linecap="butt"/>
<line x1="220" y1="491.3" x2="227.6" y2="491.3" stroke="#111" stroke-width="1.3" stroke-linecap="butt"/>
<line x1="246.2" y1="464.7" x2="246.2" y2="476.4" stroke="#111" stroke-width="1.3" stroke-linecap="butt"/>
<line x1="242.4" y1="464.7" x2="250" y2="464.7" stroke="#111" stroke-width="1.3" stroke-linecap="butt"/>
<line x1="242.4" y1="476.4" x2="250" y2="476.4" stroke="#111" stroke-width="1.3" stroke-linecap="butt"/>
<line x1="57" y1="505.9" x2="257" y2="505.9" stroke="#111" stroke-width="1.1" stroke-dasharray="3,2" stroke-linecap="butt"/>
<line x1="52.8" y1="509" x2="257" y2="509" stroke="#1a1a1a" stroke-width="1.3" stroke-linecap="butt"/>
<text x="89.4" y="493.4" font-size="6.4" text-anchor="middle" fill="#333" color="#333">1.4</text>
<text x="111.8" y="493.4" font-size="6.4" text-anchor="middle" fill="#333" color="#333">1.3</text>
<text x="134.2" y="493.4" font-size="6.4" text-anchor="middle" fill="#333" color="#333">2</text>
<text x="179" y="493.4" font-size="6.4" text-anchor="middle" fill="#333" color="#333">2</text>
<text x="156.6" y="468" font-size="6.4" text-anchor="middle" fill="#333" color="#333">2.8</text>
<circle cx="156.6" cy="475" r="1.15" fill="#1a1a1a"/>
<text x="201.4" y="458.7" font-size="6.4" text-anchor="middle" fill="#333" color="#333">4.4</text>
<circle cx="201.4" cy="467" r="1.15" fill="#1a1a1a"/>
<text x="223.8" y="453" font-size="6.4" text-anchor="middle" fill="#333" color="#333">6</text>
<circle cx="220.65" cy="461.2" r="1.15" fill="#1a1a1a"/>
<circle cx="223.8" cy="461.2" r="1.15" fill="#1a1a1a"/>
<circle cx="226.95" cy="461.2" r="1.15" fill="#1a1a1a"/>
<text x="246.6" y="425.3" font-size="6.4" text-anchor="middle" fill="#333" color="#333">10.5</text>
<circle cx="241.88" cy="433.5" r="1.15" fill="#1a1a1a"/>
<circle cx="245.03" cy="433.5" r="1.15" fill="#1a1a1a"/>
<circle cx="248.18" cy="433.5" r="1.15" fill="#1a1a1a"/>
<circle cx="251.32" cy="433.5" r="1.15" fill="#1a1a1a"/>
<line x1="226.5" y1="413.4" x2="245.7" y2="413.4" stroke="#222" stroke-width="1.4" stroke-linecap="butt"/>
<line x1="226.5" y1="411.6" x2="226.5" y2="415.2" stroke="#222" stroke-width="1.4" stroke-linecap="butt"/>
<line x1="245.7" y1="411.6" x2="245.7" y2="415.2" stroke="#222" stroke-width="1.4" stroke-linecap="butt"/>
<circle cx="235.8" cy="410.8" r="1.15" fill="#1a1a1a"/>
<line x1="159.6" y1="434.2" x2="221.9" y2="434.2" stroke="#222" stroke-width="1.4" stroke-linecap="butt"/>
<line x1="159.6" y1="432.4" x2="159.6" y2="436" stroke="#222" stroke-width="1.4" stroke-linecap="butt"/>
<line x1="221.9" y1="432.4" x2="221.9" y2="436" stroke="#222" stroke-width="1.4" stroke-linecap="butt"/>
<circle cx="190.8" cy="431" r="1.15" fill="#1a1a1a"/>
<line x1="199.5" y1="443.4" x2="221.9" y2="443.4" stroke="#222" stroke-width="1.4" stroke-linecap="butt"/>
<line x1="199.5" y1="441.6" x2="199.5" y2="445.2" stroke="#222" stroke-width="1.4" stroke-linecap="butt"/>
<line x1="221.9" y1="441.6" x2="221.9" y2="445.2" stroke="#222" stroke-width="1.4" stroke-linecap="butt"/>
<text x="210.4" y="442.55" font-size="6.8" text-anchor="middle" fill="#5a5a5a" color="#5a5a5a">ns</text>
<text x="67" y="520.6" font-size="6.1" text-anchor="middle" fill="#222" color="#222">Media</text>
<text x="89.4" y="520.6" font-size="6.1" text-anchor="middle" fill="#222" color="#222">IL-25</text>
<text x="111.8" y="520.6" font-size="6.1" text-anchor="middle" fill="#222" color="#222">IL-33</text>
<text x="134.2" y="520.6" font-size="6.1" text-anchor="middle" fill="#222" color="#222">TSLP</text>
<text x="156.6" y="520.6" font-size="6.1" text-anchor="middle" fill="#222" color="#222">IL-25</text>
<text x="156.6" y="528.35" font-size="6.1" text-anchor="middle" fill="#222" color="#222">IL-33</text>
<text x="179" y="520.6" font-size="6.1" text-anchor="middle" fill="#222" color="#222">IL-25</text>
<text x="179" y="528.35" font-size="6.1" text-anchor="middle" fill="#222" color="#222">TSLP</text>
<text x="201.4" y="520.6" font-size="6.1" text-anchor="middle" fill="#222" color="#222">IL-33</text>
<text x="201.4" y="528.35" font-size="6.1" text-anchor="middle" fill="#222" color="#222">TSLP</text>
<text x="223.8" y="520.6" font-size="6.1" text-anchor="middle" fill="#222" color="#222">IL-25</text>
<text x="223.8" y="528.35" font-size="6.1" text-anchor="middle" fill="#222" color="#222">IL-33</text>
<text x="223.8" y="536.1" font-size="6.1" text-anchor="middle" fill="#222" color="#222">TSLP</text>
<text x="246.2" y="520.6" font-size="6.1" text-anchor="middle" fill="#222" color="#222">IL-2</text>
<text x="246.2" y="528.35" font-size="6.1" text-anchor="middle" fill="#222" color="#222">IL-25</text>
<text x="246.2" y="536.1" font-size="6.1" text-anchor="middle" fill="#222" color="#222">IL-33</text>
<text x="246.2" y="543.85" font-size="6.1" text-anchor="middle" fill="#222" color="#222">TSLP</text>
<text x="263.4" y="409" font-size="11.6" text-anchor="start" fill="#111" color="#111" font-weight="bold" style="stroke-width:0.35px">E</text>
<line x1="311" y1="421.3" x2="311" y2="509.2" stroke="#222" stroke-width="1.2" stroke-linecap="butt"/>
<line x1="308.6" y1="424.2" x2="311" y2="424.2" stroke="#222" stroke-width="1" stroke-linecap="butt"/>
<text x="305.8" y="426.4" font-size="6.2" letter-spacing="0.55" text-anchor="end" fill="#222" color="#222">4x10<tspan font-size="4.2" dy="-2.8">3</tspan></text>
<line x1="308.6" y1="445.32" x2="311" y2="445.32" stroke="#222" stroke-width="1" stroke-linecap="butt"/>
<text x="305.8" y="447.52" font-size="6.2" letter-spacing="0.55" text-anchor="end" fill="#222" color="#222">3x10<tspan font-size="4.2" dy="-2.8">3</tspan></text>
<line x1="308.6" y1="466.45" x2="311" y2="466.45" stroke="#222" stroke-width="1" stroke-linecap="butt"/>
<text x="305.8" y="468.65" font-size="6.2" letter-spacing="0.55" text-anchor="end" fill="#222" color="#222">2x10<tspan font-size="4.2" dy="-2.8">3</tspan></text>
<line x1="308.6" y1="487.57" x2="311" y2="487.57" stroke="#222" stroke-width="1" stroke-linecap="butt"/>
<text x="305.8" y="489.77" font-size="6.2" letter-spacing="0.55" text-anchor="end" fill="#222" color="#222">1x10<tspan font-size="4.2" dy="-2.8">3</tspan></text>
<text x="306.8" y="510.9" font-size="6.4" text-anchor="end" fill="#333" color="#333">0</text>
<text transform="translate(280.8 465.1) rotate(-90) scale(0.68 1)" x="0" y="0" font-size="8.6" text-anchor="middle" fill="#222" color="#222">Number of ILC2</text>
<line x1="322" y1="508.7" x2="322" y2="511.3" stroke="#222" stroke-width="1" stroke-linecap="butt"/>
<rect x="314.4" y="502.7" width="15.2" height="6" fill="#fff" stroke="#a4344a" stroke-width="1.15"/>
<line x1="344.3" y1="508.7" x2="344.3" y2="511.3" stroke="#222" stroke-width="1" stroke-linecap="butt"/>
<rect x="336.7" y="499.2" width="15.2" height="9.5" fill="#fff" stroke="#56609a" stroke-width="1.15"/>
<line x1="366.6" y1="508.7" x2="366.6" y2="511.3" stroke="#222" stroke-width="1" stroke-linecap="butt"/>
<rect x="359" y="500.4" width="15.2" height="8.3" fill="#fff" stroke="#98c27a" stroke-width="1.15"/>
<line x1="389" y1="508.7" x2="389" y2="511.3" stroke="#222" stroke-width="1" stroke-linecap="butt"/>
<rect x="381.4" y="496.7" width="15.2" height="12" fill="#fff" stroke="#63538c" stroke-width="1.15"/>
<line x1="411.3" y1="508.7" x2="411.3" y2="511.3" stroke="#222" stroke-width="1" stroke-linecap="butt"/>
<rect x="403.7" y="499.4" width="15.2" height="9.3" fill="#fff" stroke="#dcae5e" stroke-width="1.15"/>
<line x1="433.6" y1="508.7" x2="433.6" y2="511.3" stroke="#222" stroke-width="1" stroke-linecap="butt"/>
<rect x="426" y="496.3" width="15.2" height="12.4" fill="#fff" stroke="#66826f" stroke-width="1.15"/>
<line x1="456" y1="508.7" x2="456" y2="511.3" stroke="#222" stroke-width="1" stroke-linecap="butt"/>
<rect x="448.4" y="496" width="15.2" height="12.7" fill="#fff" stroke="#9a95c4" stroke-width="1.15"/>
<line x1="478.6" y1="508.7" x2="478.6" y2="511.3" stroke="#222" stroke-width="1" stroke-linecap="butt"/>
<rect x="471" y="490.4" width="15.2" height="18.3" fill="#fff" stroke="#5e5e5e" stroke-width="1.15"/>
<line x1="501" y1="508.7" x2="501" y2="511.3" stroke="#222" stroke-width="1" stroke-linecap="butt"/>
<rect x="493.4" y="450.5" width="15.2" height="58.2" fill="#fff" stroke="#95bfe8" stroke-width="1.15"/>
<line x1="320.1" y1="496.6" x2="323.9" y2="500.4" stroke="#a3213f" stroke-width="1.44" stroke-linecap="butt"/>
<line x1="320.1" y1="500.4" x2="323.9" y2="496.6" stroke="#a3213f" stroke-width="1.44" stroke-linecap="butt"/>
<line x1="316.6" y1="500.1" x2="320.4" y2="503.9" stroke="#a3213f" stroke-width="1.44" stroke-linecap="butt"/>
<line x1="316.6" y1="503.9" x2="320.4" y2="500.1" stroke="#a3213f" stroke-width="1.44" stroke-linecap="butt"/>
<line x1="323.6" y1="500.1" x2="327.4" y2="503.9" stroke="#a3213f" stroke-width="1.44" stroke-linecap="butt"/>
<line x1="323.6" y1="503.9" x2="327.4" y2="500.1" stroke="#a3213f" stroke-width="1.44" stroke-linecap="butt"/>
<line x1="320.1" y1="503.1" x2="323.9" y2="506.9" stroke="#a3213f" stroke-width="1.44" stroke-linecap="butt"/>
<line x1="320.1" y1="506.9" x2="323.9" y2="503.1" stroke="#a3213f" stroke-width="1.44" stroke-linecap="butt"/>
<line x1="317.1" y1="504.1" x2="320.9" y2="507.9" stroke="#a3213f" stroke-width="1.44" stroke-linecap="butt"/>
<line x1="317.1" y1="507.9" x2="320.9" y2="504.1" stroke="#a3213f" stroke-width="1.44" stroke-linecap="butt"/>
<line x1="323.1" y1="504.1" x2="326.9" y2="507.9" stroke="#a3213f" stroke-width="1.44" stroke-linecap="butt"/>
<line x1="323.1" y1="507.9" x2="326.9" y2="504.1" stroke="#a3213f" stroke-width="1.44" stroke-linecap="butt"/>
<circle cx="339.5" cy="494.6" r="1.67" fill="none" stroke="#33438a" stroke-width="1.44"/>
<circle cx="349.1" cy="494.6" r="1.67" fill="none" stroke="#33438a" stroke-width="1.44"/>
<circle cx="344.3" cy="497.3" r="1.67" fill="none" stroke="#33438a" stroke-width="1.44"/>
<circle cx="338.8" cy="504.2" r="1.67" fill="none" stroke="#33438a" stroke-width="1.44"/>
<circle cx="342.6" cy="505.3" r="1.67" fill="none" stroke="#33438a" stroke-width="1.44"/>
<circle cx="346.4" cy="505.3" r="1.67" fill="none" stroke="#33438a" stroke-width="1.44"/>
<circle cx="350" cy="504.2" r="1.67" fill="none" stroke="#33438a" stroke-width="1.44"/>
<rect x="362.29" y="491.09" width="3.42" height="3.42" fill="none" stroke="#82bd58" stroke-width="1.38"/>
<rect x="367.29" y="491.09" width="3.42" height="3.42" fill="none" stroke="#82bd58" stroke-width="1.38"/>
<rect x="359.79" y="494.79" width="3.42" height="3.42" fill="none" stroke="#82bd58" stroke-width="1.38"/>
<rect x="370.09" y="494.79" width="3.42" height="3.42" fill="none" stroke="#82bd58" stroke-width="1.38"/>
<rect x="364.89" y="497.79" width="3.42" height="3.42" fill="none" stroke="#82bd58" stroke-width="1.38"/>
<rect x="360.29" y="501.79" width="3.42" height="3.42" fill="none" stroke="#82bd58" stroke-width="1.38"/>
<rect x="365.29" y="502.79" width="3.42" height="3.42" fill="none" stroke="#82bd58" stroke-width="1.38"/>
<rect x="369.79" y="501.79" width="3.42" height="3.42" fill="none" stroke="#82bd58" stroke-width="1.38"/>
<path d="M383.6 489.69 L386 493.95 L381.2 493.95Z" fill="#4b2c7a"/>
<path d="M387.2 488.89 L389.6 493.15 L384.8 493.15Z" fill="#4b2c7a"/>
<path d="M390.8 488.89 L393.2 493.15 L388.4 493.15Z" fill="#4b2c7a"/>
<path d="M394.4 489.69 L396.8 493.95 L392 493.95Z" fill="#4b2c7a"/>
<path d="M384.5 498.99 L386.9 503.25 L382.1 503.25Z" fill="#4b2c7a"/>
<path d="M389 500.69 L391.4 504.95 L386.6 504.95Z" fill="#4b2c7a"/>
<path d="M393.5 498.99 L395.9 503.25 L391.1 503.25Z" fill="#4b2c7a"/>
<path d="M386.5 502.99 L388.9 507.25 L384.1 507.25Z" fill="#4b2c7a"/>
<path d="M391.5 502.99 L393.9 507.25 L389.1 507.25Z" fill="#4b2c7a"/>
<path d="M405.8 494.31 L408.2 490.05 L403.4 490.05Z" fill="#d6a33a"/>
<path d="M416.8 494.31 L419.2 490.05 L414.4 490.05Z" fill="#d6a33a"/>
<path d="M408.3 497.71 L410.7 493.45 L405.9 493.45Z" fill="#d6a33a"/>
<path d="M414.3 497.71 L416.7 493.45 L411.9 493.45Z" fill="#d6a33a"/>
<path d="M411.3 500.51 L413.7 496.25 L408.9 496.25Z" fill="#d6a33a"/>
<path d="M407.5 504.51 L409.9 500.25 L405.1 500.25Z" fill="#d6a33a"/>
<path d="M415 504.51 L417.4 500.25 L412.6 500.25Z" fill="#d6a33a"/>
<path d="M411.3 507.51 L413.7 503.25 L408.9 503.25Z" fill="#d6a33a"/>
<path d="M407 508.51 L409.4 504.25 L404.6 504.25Z" fill="#d6a33a"/>
<path d="M416 508.51 L418.4 504.25 L413.6 504.25Z" fill="#d6a33a"/>
<path d="M428.2 488.51 L430.29 490.6 L428.2 492.69 L426.11 490.6Z" fill="#2f6a4e"/>
<path d="M431.2 491.11 L433.29 493.2 L431.2 495.29 L429.11 493.2Z" fill="#2f6a4e"/>
<path d="M436.8 489.11 L438.89 491.2 L436.8 493.29 L434.71 491.2Z" fill="#2f6a4e"/>
<path d="M439.6 487.31 L441.69 489.4 L439.6 491.49 L437.51 489.4Z" fill="#2f6a4e"/>
<path d="M433.6 493.71 L435.69 495.8 L433.6 497.89 L431.51 495.8Z" fill="#2f6a4e"/>
<path d="M430.5 498.41 L432.59 500.5 L430.5 502.59 L428.41 500.5Z" fill="#2f6a4e"/>
<path d="M437.5 499.41 L439.59 501.5 L437.5 503.59 L435.41 501.5Z" fill="#2f6a4e"/>
<path d="M429.5 502.41 L431.59 504.5 L429.5 506.59 L427.41 504.5Z" fill="#2f6a4e"/>
<path d="M434 503.91 L436.09 506 L434 508.09 L431.91 506Z" fill="#2f6a4e"/>
<path d="M438.5 502.41 L440.59 504.5 L438.5 506.59 L436.41 504.5Z" fill="#2f6a4e"/>
<circle cx="456.2" cy="484.8" r="1.67" fill="none" stroke="#8a84c0" stroke-width="1.44"/>
<circle cx="450" cy="488.4" r="1.67" fill="none" stroke="#8a84c0" stroke-width="1.44"/>
<circle cx="460.8" cy="491.5" r="1.67" fill="none" stroke="#8a84c0" stroke-width="1.44"/>
<circle cx="452" cy="495" r="1.67" fill="none" stroke="#8a84c0" stroke-width="1.44"/>
<circle cx="456" cy="493.5" r="1.67" fill="none" stroke="#8a84c0" stroke-width="1.44"/>
<circle cx="461" cy="498" r="1.67" fill="none" stroke="#8a84c0" stroke-width="1.44"/>
<circle cx="451" cy="501.5" r="1.67" fill="none" stroke="#8a84c0" stroke-width="1.44"/>
<circle cx="456" cy="504" r="1.67" fill="none" stroke="#8a84c0" stroke-width="1.44"/>
<circle cx="460.5" cy="503.5" r="1.67" fill="none" stroke="#8a84c0" stroke-width="1.44"/>
<rect x="476.79" y="468.99" width="3.42" height="3.42" fill="none" stroke="#454545" stroke-width="1.38"/>
<rect x="476.79" y="476.89" width="3.42" height="3.42" fill="none" stroke="#454545" stroke-width="1.38"/>
<rect x="472.19" y="481.89" width="3.42" height="3.42" fill="none" stroke="#454545" stroke-width="1.38"/>
<rect x="481.99" y="483.99" width="3.42" height="3.42" fill="none" stroke="#454545" stroke-width="1.38"/>
<rect x="472.19" y="497.69" width="3.42" height="3.42" fill="none" stroke="#454545" stroke-width="1.38"/>
<rect x="481.99" y="497.69" width="3.42" height="3.42" fill="none" stroke="#454545" stroke-width="1.38"/>
<rect x="472.19" y="503.29" width="3.42" height="3.42" fill="none" stroke="#454545" stroke-width="1.38"/>
<rect x="481.99" y="503.29" width="3.42" height="3.42" fill="none" stroke="#454545" stroke-width="1.38"/>
<path d="M498.2 440.76 L499.96 443.85 L496.44 443.85Z" fill="none" stroke="#7ea8d6" stroke-width="1.2"/>
<path d="M503.4 440.76 L505.16 443.85 L501.64 443.85Z" fill="none" stroke="#7ea8d6" stroke-width="1.2"/>
<path d="M498.2 448.16 L499.96 451.25 L496.44 451.25Z" fill="none" stroke="#7ea8d6" stroke-width="1.2"/>
<path d="M503.4 448.16 L505.16 451.25 L501.64 451.25Z" fill="none" stroke="#7ea8d6" stroke-width="1.2"/>
<path d="M500.7 463.66 L502.46 466.75 L498.94 466.75Z" fill="none" stroke="#7ea8d6" stroke-width="1.2"/>
<line x1="322" y1="500.5" x2="322" y2="504.5" stroke="#111" stroke-width="1.3" stroke-linecap="butt"/>
<line x1="318.2" y1="500.5" x2="325.8" y2="500.5" stroke="#111" stroke-width="1.3" stroke-linecap="butt"/>
<line x1="318.2" y1="504.5" x2="325.8" y2="504.5" stroke="#111" stroke-width="1.3" stroke-linecap="butt"/>
<line x1="344.3" y1="496" x2="344.3" y2="502.5" stroke="#111" stroke-width="1.3" stroke-linecap="butt"/>
<line x1="340.5" y1="496" x2="348.1" y2="496" stroke="#111" stroke-width="1.3" stroke-linecap="butt"/>
<line x1="340.5" y1="502.5" x2="348.1" y2="502.5" stroke="#111" stroke-width="1.3" stroke-linecap="butt"/>
<line x1="366.6" y1="497.5" x2="366.6" y2="503.5" stroke="#111" stroke-width="1.3" stroke-linecap="butt"/>
<line x1="362.8" y1="497.5" x2="370.4" y2="497.5" stroke="#111" stroke-width="1.3" stroke-linecap="butt"/>
<line x1="362.8" y1="503.5" x2="370.4" y2="503.5" stroke="#111" stroke-width="1.3" stroke-linecap="butt"/>
<line x1="389" y1="494" x2="389" y2="499.5" stroke="#111" stroke-width="1.3" stroke-linecap="butt"/>
<line x1="385.2" y1="494" x2="392.8" y2="494" stroke="#111" stroke-width="1.3" stroke-linecap="butt"/>
<line x1="385.2" y1="499.5" x2="392.8" y2="499.5" stroke="#111" stroke-width="1.3" stroke-linecap="butt"/>
<line x1="411.3" y1="496.5" x2="411.3" y2="502.5" stroke="#111" stroke-width="1.3" stroke-linecap="butt"/>
<line x1="407.5" y1="496.5" x2="415.1" y2="496.5" stroke="#111" stroke-width="1.3" stroke-linecap="butt"/>
<line x1="407.5" y1="502.5" x2="415.1" y2="502.5" stroke="#111" stroke-width="1.3" stroke-linecap="butt"/>
<line x1="433.6" y1="493" x2="433.6" y2="499.5" stroke="#111" stroke-width="1.3" stroke-linecap="butt"/>
<line x1="429.8" y1="493" x2="437.4" y2="493" stroke="#111" stroke-width="1.3" stroke-linecap="butt"/>
<line x1="429.8" y1="499.5" x2="437.4" y2="499.5" stroke="#111" stroke-width="1.3" stroke-linecap="butt"/>
<line x1="456" y1="492.5" x2="456" y2="499.5" stroke="#111" stroke-width="1.3" stroke-linecap="butt"/>
<line x1="452.2" y1="492.5" x2="459.8" y2="492.5" stroke="#111" stroke-width="1.3" stroke-linecap="butt"/>
<line x1="452.2" y1="499.5" x2="459.8" y2="499.5" stroke="#111" stroke-width="1.3" stroke-linecap="butt"/>
<line x1="478.6" y1="486.3" x2="478.6" y2="492.5" stroke="#111" stroke-width="1.3" stroke-linecap="butt"/>
<line x1="474.8" y1="486.3" x2="482.4" y2="486.3" stroke="#111" stroke-width="1.3" stroke-linecap="butt"/>
<line x1="474.8" y1="492.5" x2="482.4" y2="492.5" stroke="#111" stroke-width="1.3" stroke-linecap="butt"/>
<line x1="501" y1="446.8" x2="501" y2="454.5" stroke="#111" stroke-width="1.3" stroke-linecap="butt"/>
<line x1="497.2" y1="446.8" x2="504.8" y2="446.8" stroke="#111" stroke-width="1.3" stroke-linecap="butt"/>
<line x1="497.2" y1="454.5" x2="504.8" y2="454.5" stroke="#111" stroke-width="1.3" stroke-linecap="butt"/>
<line x1="312" y1="503.4" x2="513" y2="503.4" stroke="#111" stroke-width="1.1" stroke-dasharray="3,2" stroke-linecap="butt"/>
<line x1="308" y1="508.8" x2="513" y2="508.8" stroke="#1a1a1a" stroke-width="1.3" stroke-linecap="butt"/>
<text x="344.3" y="479.5" font-size="6.4" text-anchor="middle" fill="#333" color="#333">1.7</text>
<text x="366.6" y="479.5" font-size="6.4" text-anchor="middle" fill="#333" color="#333">1.6</text>
<text x="389" y="479.5" font-size="6.4" text-anchor="middle" fill="#333" color="#333">2</text>
<text x="411.3" y="479.5" font-size="6.4" text-anchor="middle" fill="#333" color="#333">1.7</text>
<text x="433.6" y="479.5" font-size="6.4" text-anchor="middle" fill="#333" color="#333">2.1</text>
<text x="456" y="479.5" font-size="6.4" text-anchor="middle" fill="#333" color="#333">2.3</text>
<text x="478.5" y="452.2" font-size="6.4" text-anchor="middle" fill="#333" color="#333">3.3</text>
<circle cx="476.93" cy="460.3" r="1.15" fill="#1a1a1a"/>
<circle cx="480.07" cy="460.3" r="1.15" fill="#1a1a1a"/>
<text x="501.5" y="428.8" font-size="6.4" text-anchor="middle" fill="#333" color="#333">10.4</text>
<circle cx="496.77" cy="437" r="1.15" fill="#1a1a1a"/>
<circle cx="499.92" cy="437" r="1.15" fill="#1a1a1a"/>
<circle cx="503.07" cy="437" r="1.15" fill="#1a1a1a"/>
<circle cx="506.22" cy="437" r="1.15" fill="#1a1a1a"/>
<line x1="479" y1="420.2" x2="501.5" y2="420.2" stroke="#222" stroke-width="1.4" stroke-linecap="butt"/>
<line x1="479" y1="418.4" x2="479" y2="422" stroke="#222" stroke-width="1.4" stroke-linecap="butt"/>
<line x1="501.5" y1="418.4" x2="501.5" y2="422" stroke="#222" stroke-width="1.4" stroke-linecap="butt"/>
<circle cx="485.47" cy="417.2" r="1.15" fill="#1a1a1a"/>
<circle cx="488.62" cy="417.2" r="1.15" fill="#1a1a1a"/>
<circle cx="491.77" cy="417.2" r="1.15" fill="#1a1a1a"/>
<circle cx="494.92" cy="417.2" r="1.15" fill="#1a1a1a"/>
<text x="322" y="520.6" font-size="6.1" text-anchor="middle" fill="#222" color="#222">Media</text>
<text x="344.3" y="520.6" font-size="6.1" text-anchor="middle" fill="#222" color="#222">IL-25</text>
<text x="366.6" y="520.6" font-size="6.1" text-anchor="middle" fill="#222" color="#222">IL-33</text>
<text x="389" y="520.6" font-size="6.1" text-anchor="middle" fill="#222" color="#222">TSLP</text>
<text x="411.3" y="520.6" font-size="6.1" text-anchor="middle" fill="#222" color="#222">IL-25</text>
<text x="411.3" y="528.35" font-size="6.1" text-anchor="middle" fill="#222" color="#222">IL-33</text>
<text x="433.6" y="520.6" font-size="6.1" text-anchor="middle" fill="#222" color="#222">IL-25</text>
<text x="433.6" y="528.35" font-size="6.1" text-anchor="middle" fill="#222" color="#222">TSLP</text>
<text x="456" y="520.6" font-size="6.1" text-anchor="middle" fill="#222" color="#222">IL-33</text>
<text x="456" y="528.35" font-size="6.1" text-anchor="middle" fill="#222" color="#222">TSLP</text>
<text x="478.6" y="520.6" font-size="6.1" text-anchor="middle" fill="#222" color="#222">IL-25</text>
<text x="478.6" y="528.35" font-size="6.1" text-anchor="middle" fill="#222" color="#222">IL-33</text>
<text x="478.6" y="536.1" font-size="6.1" text-anchor="middle" fill="#222" color="#222">TSLP</text>
<text x="501" y="520.6" font-size="6.1" text-anchor="middle" fill="#222" color="#222">IL-2</text>
<text x="501" y="528.35" font-size="6.1" text-anchor="middle" fill="#222" color="#222">IL-25</text>
<text x="501" y="536.1" font-size="6.1" text-anchor="middle" fill="#222" color="#222">IL-33</text>
<text x="501" y="543.85" font-size="6.1" text-anchor="middle" fill="#222" color="#222">TSLP</text>
<rect x="0.5" y="0.5" width="519" height="552" fill="none" stroke="#000" stroke-width="1"/>
</svg>
</body></html>
